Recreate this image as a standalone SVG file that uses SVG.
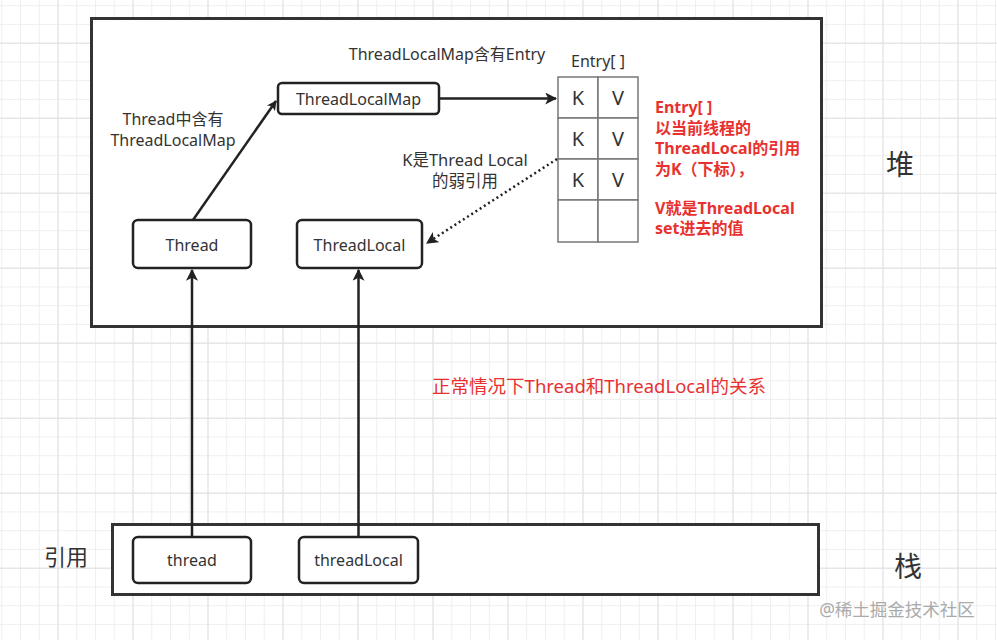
<svg xmlns="http://www.w3.org/2000/svg" width="997" height="640" viewBox="0 0 997 640">
<defs>
<pattern id="minor" x="1.25" y="5.2" width="18.75" height="18.75" patternUnits="userSpaceOnUse">
<path d="M0 0.5H18.75M0.5 0V18.75" fill="none" stroke="#efefef" stroke-width="1"/>
</pattern>
<pattern id="major" x="57.5" y="42.7" width="75" height="75" patternUnits="userSpaceOnUse">
<path d="M0 0.5H75M0.5 0V75" fill="none" stroke="#e0e0e0" stroke-width="1"/>
</pattern>
<marker id="arr" viewBox="0 0 10 10" refX="9" refY="5" markerWidth="10" markerHeight="10" markerUnits="userSpaceOnUse" orient="auto">
<path d="M0 0L10 5L0 10L2.5 5Z" fill="#222"/>
</marker>
<marker id="arrL" viewBox="0 0 10 10" refX="9" refY="5" markerWidth="12" markerHeight="12" markerUnits="userSpaceOnUse" orient="auto">
<path d="M0 0L10 5L0 10L2.5 5Z" fill="#222"/>
</marker>
</defs>
<style>
text{font-family:"Noto Sans","Noto Sans CJK SC",sans-serif;fill:#333}
.c{text-anchor:middle}
.n{font-size:16px}
.frame{fill:#fff;stroke:#333;stroke-width:3}
.box{fill:#fff;stroke:#222;stroke-width:2.5}
.cell{fill:#fff;stroke:#777;stroke-width:1.5}
.kv{font-size:20px}
.red{fill:#e8312f}
.rb{fill:#e8312f;font-weight:bold;font-size:16px}
.ln{fill:none;stroke:#222;stroke-width:2.5}
</style>
<rect width="997" height="640" fill="#fff"/>
<rect width="997" height="640" fill="url(#minor)"/>
<rect width="997" height="640" fill="url(#major)"/>

<g id="heap">
<rect class="frame" x="91.5" y="18.5" width="730" height="308"/>
<text x="900" y="175" class="c" style="font-size:28px">堆</text>
</g>
<g id="stack">
<rect class="frame" x="112.5" y="524.5" width="706" height="70"/>
<text x="908" y="577" class="c" style="font-size:28px">栈</text>
</g>
<g id="label-ref"><text x="66" y="565" class="c" style="font-size:22px">引用</text></g>

<g id="ThreadLocalMap">
<rect class="box" x="278" y="83" width="161" height="31" rx="4"/>
<text x="358.5" y="104.5" class="c n">ThreadLocalMap</text>
</g>
<g id="Thread">
<rect class="box" x="133" y="220" width="118" height="48" rx="5"/>
<text x="192" y="250.5" class="c n">Thread</text>
</g>
<g id="ThreadLocal">
<rect class="box" x="297" y="220" width="125" height="48" rx="5"/>
<text x="359.5" y="250.5" class="c n">ThreadLocal</text>
</g>
<g id="thread">
<rect class="box" x="133" y="537" width="118" height="46" rx="5"/>
<text x="192" y="565.5" class="c n">thread</text>
</g>
<g id="threadLocal">
<rect class="box" x="299" y="537" width="119" height="46" rx="5"/>
<text x="358.5" y="565.5" class="c n">threadLocal</text>
</g>

<g id="Entry">
<text x="598" y="67" class="c n">Entry[ ]</text>
<rect class="cell" x="558" y="77" width="40" height="41"/>
<rect class="cell" x="598" y="77" width="40" height="41"/>
<rect class="cell" x="558" y="118" width="40" height="41"/>
<rect class="cell" x="598" y="118" width="40" height="41"/>
<rect class="cell" x="558" y="159" width="40" height="41"/>
<rect class="cell" x="598" y="159" width="40" height="41"/>
<rect class="cell" x="558" y="200" width="40" height="42"/>
<rect class="cell" x="598" y="200" width="40" height="42"/>
<text x="578" y="105" class="c kv">K</text><text x="618" y="105" class="c kv">V</text>
<text x="578" y="146" class="c kv">K</text><text x="618" y="146" class="c kv">V</text>
<text x="578" y="187" class="c kv">K</text><text x="618" y="187" class="c kv">V</text>
</g>

<g id="connectors">
<line class="ln" x1="193" y1="220" x2="276" y2="101" marker-end="url(#arr)"/>
<line class="ln" x1="440" y1="98.5" x2="556" y2="98.5" marker-end="url(#arrL)"/>
<line x1="557" y1="159" x2="427" y2="243" stroke="#222" stroke-width="2.5" stroke-dasharray="2 3" marker-end="url(#arrL)"/>
<line class="ln" x1="192" y1="537" x2="192" y2="270" marker-end="url(#arrL)"/>
<line class="ln" x1="358.5" y1="537" x2="358.5" y2="270" marker-end="url(#arrL)"/>
</g>

<g id="labels">
<text x="447" y="60" class="c n">ThreadLocalMap含有Entry</text>
<text x="173" y="125" class="c n">Thread中含有</text>
<text x="173" y="146" class="c n">ThreadLocalMap</text>
<text x="465" y="166" class="c" style="font-size:16.5px">K是Thread Local</text>
<text x="465" y="187" class="c" style="font-size:16.5px">的弱引用</text>
<text x="655" y="113" class="rb">Entry[ ]</text>
<text x="655" y="134" class="rb">以当前线程的</text>
<text x="655" y="154" class="rb">ThreadLocal的引用</text>
<text x="655" y="175" class="rb">为K（下标），</text>
<text x="655" y="214" class="rb">V就是ThreadLocal</text>
<text x="655" y="234" class="rb">set进去的值</text>
<text x="599" y="393" class="c red" style="font-size:18.5px">正常情况下Thread和ThreadLocal的关系</text>
<text x="897" y="616" class="c" style="font-size:17.5px;fill:#aaa">@稀土掘金技术社区</text>
</g>
</svg>
